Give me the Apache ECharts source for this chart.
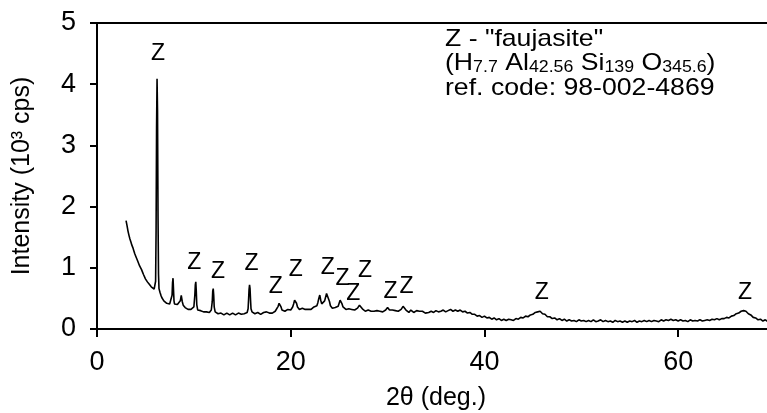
<!DOCTYPE html>
<html>
<head>
<meta charset="utf-8">
<script src="https://cdn.jsdelivr.net/npm/echarts@6/dist/echarts.min.js"></script>
<style>
  html, body { margin: 0; padding: 0; background: #fff; }
  #chart { width: 767px; height: 413px; }
</style>
</head>
<body>
<div id="chart"></div>
<script>
// XRD pattern, intensity in 10^3 counts per second vs 2-theta (degrees)

// low-angle range: falling background and the strong (111) reflection
const patternLow = [
  [3.0,1.77],[3.1,1.69],[3.2,1.60],[3.3,1.53],[3.4,1.47],[3.5,1.42],[3.6,1.37],[3.7,1.33],[3.8,1.28],[3.9,1.23],
  [4.0,1.19],[4.1,1.16],[4.2,1.11],[4.3,1.08],[4.4,1.03],[4.5,1.00],[4.6,0.97],[4.7,0.93],[4.8,0.89],[4.9,0.86],
  [5.0,0.82],[5.1,0.79],[5.2,0.77],[5.3,0.76],[5.4,0.73],[5.5,0.71],[5.6,0.69],[5.7,0.67],[5.8,0.68],[5.9,0.65],
  [6.0,0.66],[6.05,0.78],[6.1,1.60],[6.15,3.30],[6.2,4.09],[6.25,3.55],[6.3,1.85],[6.35,0.90],[6.4,0.66],[6.5,0.60],
  [6.6,0.55],[6.7,0.51],[6.8,0.48],[6.9,0.46],[7.0,0.45],[7.1,0.43],[7.2,0.42],[7.3,0.42],[7.4,0.40],[7.5,0.41],
  [7.6,0.41],[7.7,0.44],[7.75,0.55],[7.8,0.76],[7.85,0.83],[7.9,0.64],[7.95,0.46],[8.0,0.41],[8.1,0.39],[8.2,0.38],
  [8.3,0.40],[8.4,0.39],[8.5,0.41],[8.6,0.46],[8.7,0.55],[8.75,0.53],[8.8,0.45],[8.9,0.39],[9.0,0.36],[9.1,0.35],
  [9.2,0.33],[9.3,0.34],[9.4,0.32],[9.5,0.33],[9.6,0.31],[9.7,0.32],[9.8,0.31],[9.9,0.33],[10.0,0.36],[10.1,0.55],
  [10.15,0.72],[10.2,0.77],[10.25,0.62],[10.3,0.40],[10.4,0.31],[10.5,0.30],[10.6,0.29],[10.7,0.30],[10.8,0.28],[10.9,0.29],
  [11.0,0.28],[11.1,0.27],[11.2,0.29],[11.3,0.28],[11.4,0.27],[11.5,0.28],[11.6,0.27],[11.7,0.29],[11.8,0.31],[11.9,0.45],
  [11.95,0.62],[12.0,0.66],[12.05,0.55],[12.1,0.36],[12.2,0.28]
];

// middle range: medium and weak reflections on a flat background
const patternMid = [
  [12.3,0.26],[12.4,0.27],[12.5,0.25],[12.6,0.27],[12.7,0.24],[12.8,0.26],[12.9,0.24],[13.0,0.25],[13.1,0.23],[13.2,0.25],
  [13.3,0.24],[13.4,0.26],[13.5,0.23],[13.6,0.25],[13.7,0.23],[13.8,0.26],[13.9,0.24],[14.0,0.26],[14.1,0.23],[14.2,0.25],
  [14.3,0.23],[14.4,0.26],[14.5,0.24],[14.6,0.26],[14.7,0.23],[14.8,0.25],[14.9,0.24],[15.0,0.26],[15.1,0.24],[15.2,0.25],
  [15.3,0.26],[15.4,0.25],[15.5,0.27],[15.6,0.33],[15.65,0.48],[15.7,0.65],[15.75,0.72],[15.8,0.66],[15.85,0.48],[15.9,0.33],
  [16.0,0.28],[16.1,0.26],[16.2,0.27],[16.3,0.25],[16.4,0.27],[16.5,0.24],[16.6,0.27],[16.7,0.25],[16.8,0.26],[16.9,0.24],
  [17.0,0.27],[17.1,0.25],[17.2,0.27],[17.3,0.25],[17.4,0.26],[17.5,0.28],[17.6,0.26],[17.7,0.28],[17.8,0.26],[17.9,0.27],
  [18.0,0.28],[18.1,0.26],[18.2,0.29],[18.3,0.27],[18.4,0.29],[18.5,0.30],[18.6,0.32],[18.7,0.37],[18.8,0.42],[18.9,0.43],
  [19.0,0.36],[19.1,0.31],[19.2,0.30],[19.3,0.32],[19.4,0.29],[19.5,0.31],[19.6,0.29],[19.7,0.32],[19.8,0.30],[19.9,0.33],
  [20.0,0.31],[20.1,0.34],[20.2,0.36],[20.3,0.41],[20.4,0.47],[20.5,0.485],[20.6,0.42],[20.7,0.36],[20.8,0.34],[20.9,0.32],
  [21.0,0.35],[21.1,0.32],[21.2,0.34],[21.3,0.31],[21.4,0.34],[21.5,0.32],[21.6,0.35],[21.7,0.33],[21.8,0.32],[21.9,0.35],
  [22.0,0.33],[22.1,0.32],[22.2,0.35],[22.3,0.33],[22.4,0.36],[22.5,0.34],[22.6,0.37],[22.7,0.38],[22.8,0.43],[22.9,0.50],
  [23.0,0.555],[23.1,0.47],[23.2,0.41],[23.3,0.40],[23.4,0.42],[23.5,0.46],[23.6,0.52],[23.7,0.58],[23.8,0.61],[23.9,0.56],
  [24.0,0.45],[24.1,0.38],[24.2,0.36],[24.3,0.34],[24.4,0.35],[24.5,0.33],[24.6,0.35],[24.7,0.34],[24.8,0.36],[24.9,0.37],
  [25.0,0.40],[25.1,0.47],[25.2,0.485],[25.3,0.41],[25.4,0.36],[25.5,0.34],[25.6,0.35],[25.7,0.32],[25.8,0.34],[25.9,0.31],
  [26.0,0.33],[26.1,0.31],[26.2,0.34],[26.3,0.32],[26.4,0.31],[26.5,0.34],[26.6,0.31],[26.7,0.33],[26.8,0.31],[26.9,0.34],
  [27.0,0.35],[27.1,0.39],[27.2,0.41],[27.3,0.37],[27.4,0.33],[27.5,0.31],[27.6,0.32],[27.7,0.29],[27.8,0.31],[27.9,0.29],
  [28.0,0.31],[28.1,0.28],[28.2,0.31],[28.3,0.29],[28.4,0.28],[28.5,0.31],[28.6,0.29],[28.7,0.31],[28.8,0.28],[28.9,0.30],
  [29.0,0.28],[29.1,0.31],[29.2,0.29],[29.3,0.28],[29.4,0.30],[29.5,0.28],[29.6,0.31],[29.7,0.29],[29.8,0.31],[29.9,0.33],
  [30.0,0.35],[30.1,0.34],[30.2,0.31],[30.3,0.29],[30.4,0.28],[30.5,0.31],[30.6,0.29],[30.7,0.28],[30.8,0.30],[30.9,0.28],
  [31.0,0.31],[31.1,0.29],[31.2,0.31],[31.3,0.29],[31.4,0.32],[31.5,0.34],[31.6,0.37],[31.7,0.375],[31.8,0.34],[31.9,0.31],
  [32.0,0.28],[32.1,0.30],[32.2,0.27],[32.3,0.30],[32.4,0.31],[32.5,0.28],[32.6,0.30],[32.7,0.27],[32.8,0.29],[32.9,0.27],
  [33.0,0.30],[33.1,0.28],[33.2,0.27],[33.3,0.29],[33.4,0.30],[33.5,0.27],[33.6,0.29],[33.7,0.27],[33.8,0.29],[33.9,0.26],
  [34.0,0.29]
];

// high-angle range: amorphous hump and two broad reflections
const patternHigh = [
  [34.25,0.27],[34.5,0.29],[34.75,0.27],[35.0,0.30],[35.25,0.28],[35.5,0.29],[35.75,0.31],[36.0,0.28],[36.25,0.30],[36.5,0.32],
  [36.75,0.29],[37.0,0.31],[37.25,0.29],[37.5,0.31],[37.75,0.28],[38.0,0.29],[38.25,0.26],[38.5,0.27],[38.75,0.24],[39.0,0.24],
  [39.25,0.21],[39.5,0.22],[39.75,0.19],[40.0,0.21],[40.25,0.18],[40.5,0.19],[40.75,0.16],[41.0,0.18],[41.25,0.15],[41.5,0.17],
  [41.75,0.14],[42.0,0.16],[42.25,0.14],[42.5,0.16],[42.75,0.15],[43.0,0.14],[43.25,0.17],[43.5,0.16],[43.75,0.19],[44.0,0.18],
  [44.25,0.21],[44.5,0.20],[44.75,0.23],[45.0,0.24],[45.25,0.27],[45.5,0.28],[45.75,0.29],[46.0,0.25],[46.25,0.24],[46.5,0.20],
  [46.75,0.20],[47.0,0.17],[47.25,0.18],[47.5,0.15],[47.75,0.17],[48.0,0.14],[48.25,0.16],[48.5,0.13],[48.75,0.15],[49.0,0.13],
  [49.25,0.14],[49.5,0.12],[49.75,0.15],[50.0,0.13],[50.25,0.14],[50.5,0.12],[50.75,0.14],[51.0,0.12],[51.25,0.15],[51.5,0.12],
  [51.75,0.13],[52.0,0.15],[52.25,0.12],[52.5,0.14],[52.75,0.12],[53.0,0.13],[53.25,0.11],[53.5,0.14],[53.75,0.12],[54.0,0.13],
  [54.25,0.11],[54.5,0.13],[54.75,0.11],[55.0,0.13],[55.25,0.12],[55.5,0.14],[55.75,0.11],[56.0,0.13],[56.25,0.12],[56.5,0.14],
  [56.75,0.12],[57.0,0.14],[57.25,0.12],[57.5,0.14],[57.75,0.13],[58.0,0.12],[58.25,0.15],[58.5,0.13],[58.75,0.15],[59.0,0.14],
  [59.25,0.16],[59.5,0.14],[59.75,0.15],[60.0,0.13],[60.25,0.15],[60.5,0.13],[60.75,0.14],[61.0,0.12],[61.25,0.15],[61.5,0.13],
  [61.75,0.14],[62.0,0.13],[62.25,0.15],[62.5,0.13],[62.75,0.14],[63.0,0.15],[63.25,0.14],[63.5,0.16],[63.75,0.15],[64.0,0.17],
  [64.25,0.15],[64.5,0.17],[64.75,0.17],[65.0,0.19],[65.25,0.18],[65.5,0.21],[65.75,0.22],[66.0,0.25],[66.25,0.26],[66.5,0.29],
  [66.75,0.30],[67.0,0.29],[67.25,0.25],[67.5,0.23],[67.75,0.19],[68.0,0.18],[68.25,0.15],[68.5,0.16],[68.75,0.13],[69.0,0.15],
  [69.25,0.12],[69.5,0.14],[69.75,0.12],[70.0,0.13]
];

// reflections assigned to faujasite: [2-theta, height of the "Z" marker in 10^3 cps]
const faujasiteMarks = [
  [6.3,4.50],[10.04,1.09],[12.5,0.93],[15.95,1.06],[18.46,0.69],[20.53,0.97],[23.83,1.01],
  [25.35,0.83],[26.45,0.58],[27.66,0.96],[30.31,0.61],[31.96,0.69],[45.91,0.59],[66.91,0.59]
];

// axis ticks
const xTicks = { min: 0, max: 70, step: 20 };
const yTicks = { min: 0, max: 5, step: 1 };

const phaseNote = [
  'Z - "faujasite"',
  ['H', '7.7', 'Al', '42.56', 'Si', '139', 'O', '345.6'],
  'ref. code: 98-002-4869'
];

const pattern = patternLow.concat(patternMid, patternHigh);

const FONT = '"Liberation Sans", Arial, Helvetica, sans-serif';

const formula = phaseNote[1];
const noteText =
  '{t|' + phaseNote[0] + '}\n' +
  '{t|(' + formula[0] + '}{s|' + formula[1] + '}' +
  '{t| ' + formula[2] + '}{s|' + formula[3] + '}' +
  '{t| ' + formula[4] + '}{s|' + formula[5] + '}' +
  '{t| ' + formula[6] + '}{s|' + formula[7] + '}{t|)}\n' +
  '{t|' + phaseNote[2] + '}';

const chart = echarts.init(document.getElementById('chart'), null, { renderer: 'canvas' });

chart.setOption({
  animation: false,
  backgroundColor: '#ffffff',
  textStyle: { fontFamily: FONT, color: '#000' },
  grid: {
    left: 97, top: 23, right: -8, bottom: 84,
    containLabel: false,
    outerBoundsMode: 'none',
    show: true,
    borderColor: '#000',
    borderWidth: 2,
    backgroundColor: 'transparent'
  },
  xAxis: {
    type: 'value',
    min: xTicks.min, max: xTicks.max, interval: xTicks.step,
    name: '2θ (deg.)',
    nameLocation: 'middle',
    nameGap: 57,
    nameTextStyle: { fontFamily: FONT, fontSize: 25, color: '#000' },
    axisLine: { show: true, onZero: false, lineStyle: { color: '#000', width: 2 } },
    axisTick: { show: true, inside: false, length: 8, lineStyle: { color: '#000', width: 2 } },
    axisLabel: { show: true, margin: 20, fontSize: 27, color: '#000', fontFamily: FONT, showMaxLabel: false },
    splitLine: { show: false }
  },
  yAxis: {
    type: 'value',
    min: yTicks.min, max: yTicks.max, interval: yTicks.step,
    name: 'Intensity (10³ cps)',
    nameLocation: 'middle',
    nameRotate: 90,
    nameGap: 62,
    nameTextStyle: { fontFamily: FONT, fontSize: 25, color: '#000' },
    axisLine: { show: true, onZero: false, lineStyle: { color: '#000', width: 2 } },
    axisTick: { show: true, inside: false, length: 7, lineStyle: { color: '#000', width: 2 } },
    axisLabel: { show: true, margin: 21, fontSize: 27, color: '#000', fontFamily: FONT },
    splitLine: { show: false }
  },
  series: [
    {
      name: 'pattern',
      type: 'line',
      data: pattern,
      showSymbol: false,
      symbol: 'none',
      smooth: false,
      lineStyle: { color: '#000', width: 1.6 },
      z: 3
    },
    {
      name: 'faujasite',
      type: 'scatter',
      data: faujasiteMarks,
      symbolSize: 0,
      silent: true,
      itemStyle: { opacity: 1, color: '#000' },
      label: {
        show: true,
        position: 'inside',
        formatter: 'Z',
        fontFamily: FONT,
        fontSize: 23,
        color: '#000',
        opacity: 1
      },
      z: 4
    }
  ],
  graphic: [
    {
      type: 'text',
      x: 445,
      y: 27,
      scaleX: 1.11,
      silent: true,
      style: {
        text: noteText,
        fill: '#000',
        fontFamily: FONT,
        rich: {
          t: { fontFamily: FONT, fontSize: 24, lineHeight: 24.5, fill: '#000', color: '#000' },
          s: { fontFamily: FONT, fontSize: 16, lineHeight: 8, verticalAlign: 'bottom', fill: '#000', color: '#000' }
        }
      }
    }
  ]
});
</script>
</body>
</html>
